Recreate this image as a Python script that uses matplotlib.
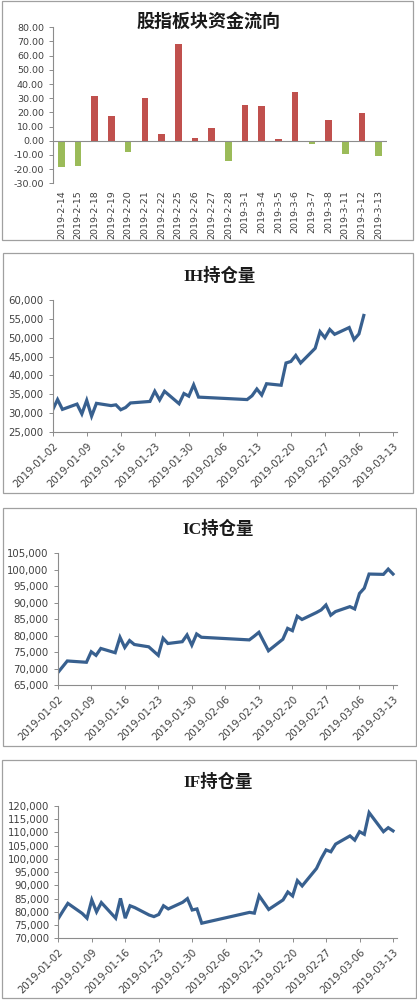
import numpy as np
import pandas as pd
import matplotlib
matplotlib.use('Agg')
import matplotlib.pyplot as plt
import matplotlib.dates as mdates
import matplotlib.ticker as mticker
from matplotlib.patches import Rectangle

W, H = 417, 1000

# 股指板块资金流向 (亿元)
flow_dates = ['2019-2-14', '2019-2-15', '2019-2-18', '2019-2-19', '2019-2-20',
              '2019-2-21', '2019-2-22', '2019-2-25', '2019-2-26', '2019-2-27',
              '2019-2-28', '2019-3-1', '2019-3-4', '2019-3-5', '2019-3-6',
              '2019-3-7', '2019-3-8', '2019-3-11', '2019-3-12', '2019-3-13']
flow_values = [-18.4, -17.6, 31.8, 17.4, -7.8, 29.9, 4.9, 68.0, 2.1, 8.7,
               -14.4, 25.2, 24.7, 1.4, 34.4, -2.6, 14.6, -9.2, 19.3, -10.8]

# 交易日
trade_dates = ['2019-01-02', '2019-01-03', '2019-01-04', '2019-01-07', '2019-01-08',
               '2019-01-09', '2019-01-10', '2019-01-11', '2019-01-14', '2019-01-15',
               '2019-01-16', '2019-01-17', '2019-01-18', '2019-01-21', '2019-01-22',
               '2019-01-23', '2019-01-24', '2019-01-25', '2019-01-28', '2019-01-29',
               '2019-01-30', '2019-01-31', '2019-02-01', '2019-02-11', '2019-02-12',
               '2019-02-13', '2019-02-14', '2019-02-15', '2019-02-18', '2019-02-19',
               '2019-02-20', '2019-02-21', '2019-02-22', '2019-02-25', '2019-02-26',
               '2019-02-27', '2019-02-28', '2019-03-01', '2019-03-04', '2019-03-05',
               '2019-03-06', '2019-03-07', '2019-03-08', '2019-03-11', '2019-03-12',
               '2019-03-13']

ih_oi = [30900, 33600, 31000, 32400, 29800, 33400, 29200, 32600, 32000, 32200,
         30900, 31500, 32700, 33000, 33100, 35800, 33500, 35800, 32500, 35200,
         34500, 37500, 34250, 33600, 34600, 36400, 34800, 37800, 37400, 43300,
         43700, 45300, 43300, 47200, 51600, 50000, 52200, 50900, 52700, 49500,
         51000, 55900]

ic_oi = [68700, 70500, 72300, 72000, 71900, 75100, 74000, 76100, 74800, 79500,
         76400, 78500, 77300, 76600, 75300, 74000, 79200, 77600, 78150, 80200,
         77100, 80500, 79500, 78700, 79800, 81000, 78200, 75400, 78900, 82200,
         81500, 85900, 84900, 87000, 87800, 89300, 86200, 87300, 88800, 88100,
         92800, 94400, 98700, 98600, 100200, 98700]

if_oi = [77500, 80400, 83200, 79400, 77600, 84500, 80000, 83500, 77600, 85100,
         77600, 82300, 81600, 78800, 78200, 79000, 82300, 81100, 83600, 85000,
         80700, 81100, 75700, 79800, 79500, 86100, 83500, 80900, 84500, 87500,
         86000, 91800, 89800, 96400, 100200, 103400, 102700, 105600, 108700, 107100,
         110300, 109300, 117500, 110300, 111800, 110600]

RED = '#C0504D'
GREEN = '#9BBB59'
LINE = '#38608F'
GREY = '#404040'
AXIS = '#8C8C8C'
TITLE_FONT = ['Liberation Serif', 'Noto Sans CJK SC']


def px_axes(fig, x0, y0, x1, y1):
    # pixel box (top-left origin) -> figure axes
    return fig.add_axes([x0 / W, 1 - y1 / H, (x1 - x0) / W, (y1 - y0) / H])


def panel_box(fig, x0, y0, x1, y1):
    fig.patches.append(Rectangle((x0 / W, 1 - y1 / H), (x1 - x0) / W, (y1 - y0) / H,
                                 transform=fig.transFigure, fill=False,
                                 edgecolor='#A0A0A0', lw=0.9))


def style(ax, size):
    for s in ['top', 'right']:
        ax.spines[s].set_visible(False)
    for s in ['left', 'bottom']:
        ax.spines[s].set_color(AXIS)
        ax.spines[s].set_linewidth(0.8)
    ax.tick_params(colors=AXIS, labelcolor=GREY, labelsize=size,
                   length=3, width=0.7)


def line_panel(fig, box, ax_box, title, title_xy, values, ylim):
    panel_box(fig, *box)
    ax = px_axes(fig, *ax_box)
    d = pd.to_datetime(trade_dates[:len(values)])
    ax.plot(d, values, color=LINE, lw=2.3, solid_joinstyle='miter')
    ax.set_ylim(*ylim)
    ax.yaxis.set_major_locator(mticker.MultipleLocator(5000))
    ax.yaxis.set_major_formatter(mticker.FuncFormatter(lambda v, p: f'{v:,.0f}'))
    ticks = pd.date_range('2019-01-02', '2019-03-13', freq='7D')
    ax.set_xticks(ticks)
    ax.set_xticklabels([t.strftime('%Y-%m-%d') for t in ticks], rotation=45,
                       ha='right', rotation_mode='anchor')
    ax.set_xlim(pd.Timestamp('2019-01-02'), pd.Timestamp('2019-03-13') + pd.Timedelta(hours=20))
    style(ax, 7.3)
    fig.text(title_xy[0] / W, 1 - title_xy[1] / H, title, ha='center', va='center',
             fontsize=12.5, fontweight='bold', family=TITLE_FONT, color='#1a1a1a')
    return ax


def main():
    fig = plt.figure(figsize=(W / 100, H / 100), dpi=100)

    # 股指板块资金流向
    panel_box(fig, 2, 1, 413, 240)
    ax = px_axes(fig, 53, 27.3, 387, 183.3)
    x = np.arange(len(flow_values))
    vals = np.array(flow_values)
    colors = [RED if v >= 0 else GREEN for v in vals]
    ax.bar(x, vals, width=0.4, color=colors)
    ax.axhline(0, color=AXIS, lw=0.8)
    ax.set_xlim(-0.5, len(x) - 0.5)
    ax.set_ylim(-30, 80)
    ax.yaxis.set_major_locator(mticker.MultipleLocator(10))
    ax.yaxis.set_major_formatter(mticker.FormatStrFormatter('%.2f'))
    ax.set_xticks(x)
    ax.set_xticklabels(flow_dates, rotation=90)
    style(ax, 6.8)
    ax.spines['bottom'].set_visible(False)
    ax.tick_params(axis='x', length=0, pad=5)
    fig.text(208 / W, 1 - 22 / H, '股指板块资金流向', ha='center', va='center',
             fontsize=13, fontweight='bold', family=TITLE_FONT, color='#1a1a1a')

    line_panel(fig, (3, 253, 413, 493), (52.7, 300, 397, 432),
               'IH持仓量', (220, 276), ih_oi, (25000, 60000))
    line_panel(fig, (3, 508, 416, 746), (57.7, 553.3, 397, 685),
               'IC持仓量', (218, 529), ic_oi, (65000, 105000))
    line_panel(fig, (2, 760, 416, 998), (58.3, 806, 397, 938.3),
               'IF持仓量', (218, 782), if_oi, (70000, 120000))

    fig.savefig('out.png', dpi=100)
    plt.close(fig)


if __name__ == '__main__':
    main()
